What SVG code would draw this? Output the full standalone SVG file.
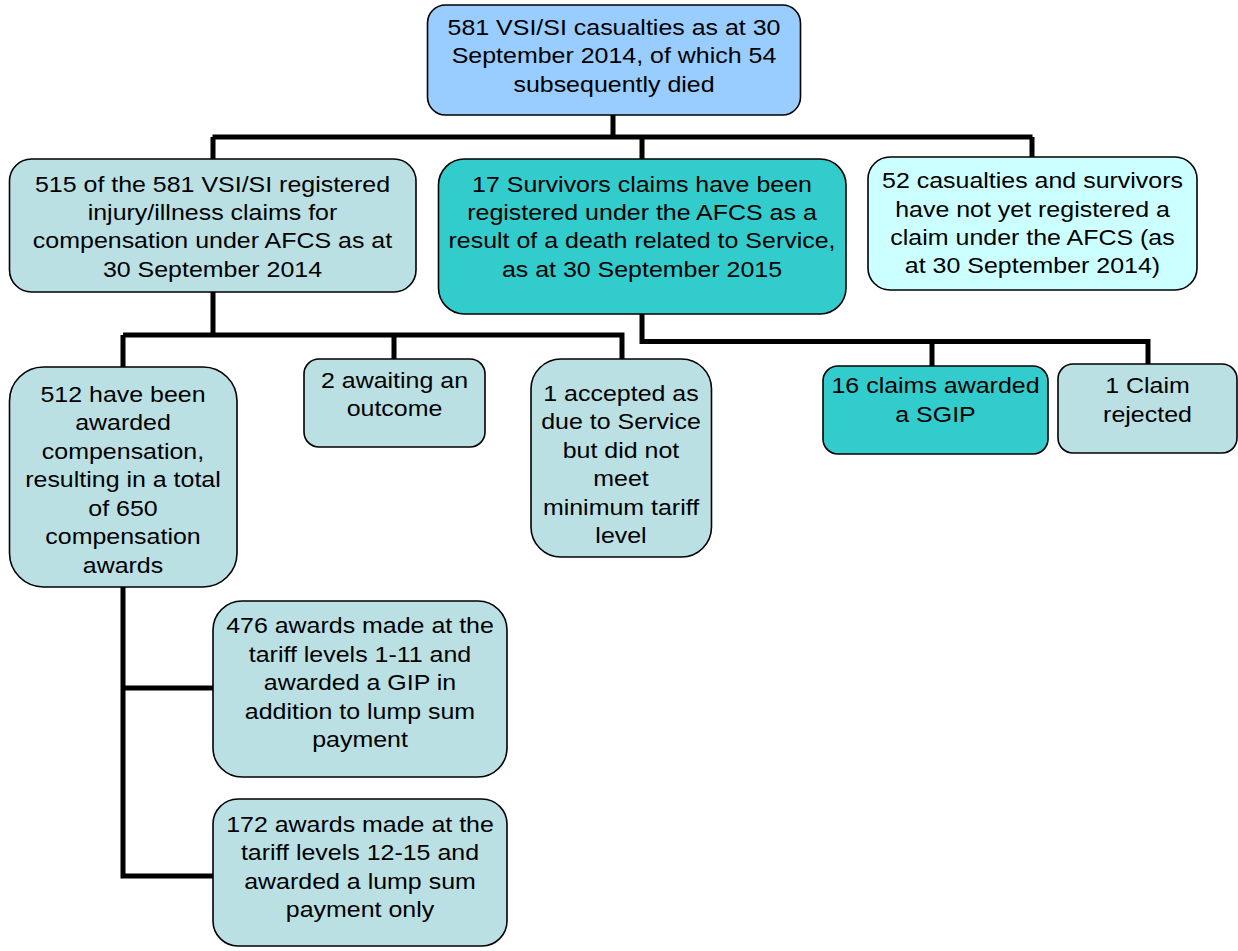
<svg xmlns="http://www.w3.org/2000/svg" width="1238" height="951" viewBox="0 0 1238 951">
<style>
.box{stroke:#000;stroke-width:1.6}
.blue{fill:#99CCFF}
.lt{fill:#BBE0E3}
.tl{fill:#33CCCC}
.cy{fill:#CCFFFF}
.t{font-family:"Liberation Sans",Arial,sans-serif;font-size:22.5px;fill:#000;text-anchor:middle}
.ln{fill:none;stroke:#000;stroke-width:5;stroke-linejoin:miter;stroke-linecap:butt}
</style>
<rect width="1238" height="951" fill="#fff"/>
<g id="connectors">
<path class="ln" d="M613 115 V137 M212.5 137 H1032.5 M213 137 V159 M642 137 V159 M1032 137 V157"/>
<path class="ln" d="M213 292 V335 M123 335 H624.5 M123 335 V367 M394 335 V359 M622 335 V359"/>
<path class="ln" d="M642 314 V341.5 H1150.5 M932 341.5 V366 M1148 341.5 V364"/>
<path class="ln" d="M123 587 V878.5 M123 688 H213 M123 876 H213"/>
</g>
<g id="n1">
<rect class="box blue" x="427.5" y="5" width="373" height="110" rx="18"/>
<g class="t" transform="translate(614 0) scale(1.11 1)"><text x="0" y="35">581 VSI/SI casualties as at 30</text><text x="0" y="63.5">September 2014, of which 54</text><text x="0" y="92">subsequently died</text></g>
</g>
<g id="n2">
<rect class="box lt" x="9.5" y="159" width="406.5" height="133" rx="22"/>
<g class="t" transform="translate(212.5 0) scale(1.11 1)"><text x="0" y="192">515 of the 581 VSI/SI registered</text><text x="0" y="220.5">injury/illness claims for</text><text x="0" y="248.5">compensation under AFCS as at</text><text x="0" y="277">30 September 2014</text></g>
</g>
<g id="n3">
<rect class="box tl" x="438.5" y="159" width="407.5" height="155" rx="26"/>
<g class="t" transform="translate(642 0) scale(1.11 1)"><text x="0" y="192">17 Survivors claims have been</text><text x="0" y="220.5">registered under the AFCS as a</text><text x="0" y="248.5">result of a death related to Service,</text><text x="0" y="277">as at 30 September 2015</text></g>
</g>
<g id="n4">
<rect class="box cy" x="868" y="157" width="329" height="133" rx="22"/>
<g class="t" transform="translate(1032.5 0) scale(1.11 1)"><text x="0" y="188.5">52 casualties and survivors</text><text x="0" y="217">have not yet registered a</text><text x="0" y="245">claim under the AFCS (as</text><text x="0" y="273.5">at 30 September 2014)</text></g>
</g>
<g id="n5">
<rect class="box lt" x="9.5" y="367" width="227.5" height="220" rx="34"/>
<g class="t" transform="translate(123 0) scale(1.11 1)"><text x="0" y="402">512 have been</text><text x="0" y="430.5">awarded</text><text x="0" y="459">compensation,</text><text x="0" y="487.5">resulting in a total</text><text x="0" y="516">of 650</text><text x="0" y="544.5">compensation</text><text x="0" y="573">awards</text></g>
</g>
<g id="n6">
<rect class="box lt" x="304" y="359" width="181" height="88" rx="15"/>
<g class="t" transform="translate(394.5 0) scale(1.11 1)"><text x="0" y="388">2 awaiting an</text><text x="0" y="416">outcome</text></g>
</g>
<g id="n7">
<rect class="box lt" x="531" y="359" width="180.5" height="198" rx="30"/>
<g class="t" transform="translate(621 0) scale(1.11 1)"><text x="0" y="401">1 accepted as</text><text x="0" y="429.5">due to Service</text><text x="0" y="458">but did not</text><text x="0" y="486.5">meet</text><text x="0" y="515">minimum tariff</text><text x="0" y="543.5">level</text></g>
</g>
<g id="n8">
<rect class="box tl" x="823" y="366" width="225" height="88" rx="15"/>
<g class="t" transform="translate(935.5 0) scale(1.11 1)"><text x="0" y="393.5">16 claims awarded</text><text x="0" y="422">a SGIP</text></g>
</g>
<g id="n9">
<rect class="box lt" x="1058" y="364" width="179" height="89" rx="15"/>
<g class="t" transform="translate(1147.5 0) scale(1.11 1)"><text x="0" y="393.5">1 Claim</text><text x="0" y="422">rejected</text></g>
</g>
<g id="n10">
<rect class="box lt" x="213" y="601" width="294" height="176" rx="29"/>
<g class="t" transform="translate(360 0) scale(1.11 1)"><text x="0" y="633.5">476 awards made at the</text><text x="0" y="662">tariff levels 1-11 and</text><text x="0" y="690.5">awarded a GIP in</text><text x="0" y="719">addition to lump sum</text><text x="0" y="747.5">payment</text></g>
</g>
<g id="n11">
<rect class="box lt" x="213" y="799" width="294" height="147" rx="25"/>
<g class="t" transform="translate(360 0) scale(1.11 1)"><text x="0" y="832">172 awards made at the</text><text x="0" y="860.5">tariff levels 12-15 and</text><text x="0" y="889">awarded a lump sum</text><text x="0" y="917.5">payment only</text></g>
</g>
</svg>
